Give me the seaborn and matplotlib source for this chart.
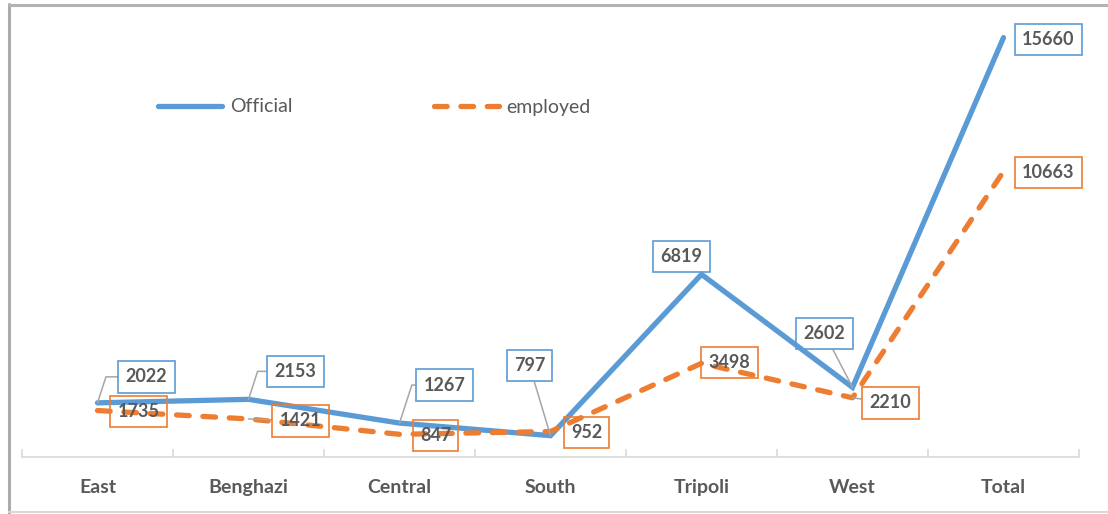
import matplotlib
matplotlib.use("Agg")
import matplotlib.pyplot as plt
from matplotlib.lines import Line2D
import seaborn as sns
import pandas as pd

# Data
regions = ["East", "Benghazi", "Central", "South", "Tripoli", "West", "Total"]
official = [2022, 2153, 1267, 797, 6819, 2602, 15660]
employed = [1735, 1421, 847, 952, 3498, 2210, 10663]
series_names = ["Official", "employed"]

BLUE = "#5B9BD5"
ORANGE = "#ED7D31"
TEXT = "#595959"
LEADER = "#A6A6A6"

sns.set_theme(style="white")
plt.rcParams["font.family"] = ["Lato", "DejaVu Sans"]

df = pd.DataFrame({
    "region": regions * 2,
    "value": official + employed,
    "series": [series_names[0]] * len(regions) + [series_names[1]] * len(regions),
})

W, H = 1108, 514
fig = plt.figure(figsize=(W / 100, H / 100), dpi=100)
ax = fig.add_axes([22 / W, 1 - 457 / H, 1057 / W, (457 - 28.5) / H])

sns.lineplot(
    data=df, x="region", y="value", hue="series", style="series",
    palette={"Official": BLUE, "employed": ORANGE},
    dashes={"Official": "", "employed": (2.4, 2.6)},
    linewidth=3.8, sort=False, legend=False, ax=ax,
)
for ln in ax.lines:
    ln.set_dash_capstyle("round")
    ln.set_solid_capstyle("round")
    ln.set_solid_joinstyle("miter")

ax.set_xlim(-0.5, len(regions) - 0.5)
ax.set_ylim(0, 16000)
ax.set_xlabel("")
ax.set_ylabel("")
ax.set_yticks([])
for side in ["left", "right", "top"]:
    ax.spines[side].set_visible(False)
ax.spines["bottom"].set_color("#D9D9D9")
ax.spines["bottom"].set_linewidth(1.2)

ax.set_xticks(range(len(regions)))
ax.set_xticklabels(regions, fontsize=14, fontweight="bold", color=TEXT)
ax.set_xticks([i - 0.5 for i in range(len(regions) + 1)], minor=True)
ax.tick_params(axis="x", which="major", length=0, pad=16)
ax.tick_params(axis="x", which="minor", direction="in", length=6,
               width=1.2, color="#D9D9D9", bottom=True)

# Label placement (pixel offsets from each point) and leader style
off_official = [(49, 26), (47, 28), (45, 38), (-21, 70), (-20, 18), (-28, 54), (45, -2)]
lead_official = ["angle", "angle", "angle", "straight", None, "straight", None]
off_employed = [(41, -1), (52, -2), (36, -1), (36, -1), (28, 1), (38, -5), (45, -1)]
lead_employed = [None, "straight", None, None, None, "straight", None]


def label_series(values, offsets, leaders, color):
    for i, (v, (dx, dy), lead) in enumerate(zip(values, offsets, leaders)):
        kw = {}
        if lead is not None:
            cs = "angle,angleA=0,angleB=72,rad=0" if lead == "angle" else "arc3,rad=0"
            kw["arrowprops"] = dict(arrowstyle="-", color=LEADER, lw=1.1,
                                    shrinkA=0, shrinkB=0, connectionstyle=cs)
        ax.annotate(
            f"{v}", xy=(i, v), xytext=(dx, dy), textcoords="offset pixels",
            ha="center", va="center", fontsize=13, fontweight="bold", color=TEXT,
            bbox=dict(boxstyle="square,pad=0.4", fc="none", ec=color, lw=1.2),
            annotation_clip=False, **kw,
        )


label_series(official, off_official, lead_official, BLUE)
label_series(employed, off_employed, lead_employed, ORANGE)

leg = ax.legend(
    handles=ax.lines[:2], labels=series_names,
    loc="center left", bbox_to_anchor=(158 / W, 1 - 107 / H),
    bbox_transform=fig.transFigure, frameon=False, ncol=2,
    fontsize=14, handlelength=3.3, handletextpad=0.4, columnspacing=7.3,
    borderpad=0, borderaxespad=0,
)
for t in leg.get_texts():
    t.set_color(TEXT)

# Outer frame of the chart area
fig.add_artist(Line2D([9 / W, 9 / W], [0, 1 - 4 / H], transform=fig.transFigure,
                      color="#ABABAB", lw=2.2))
fig.add_artist(Line2D([9 / W, 1], [1 - 5 / H, 1 - 5 / H], transform=fig.transFigure,
                      color="#B3B3B3", lw=2.2))
fig.add_artist(Line2D([9 / W, 1], [2 / H, 2 / H], transform=fig.transFigure,
                      color="#D9D9D9", lw=1.5))

fig.savefig("out.png", dpi=100, facecolor="white")
